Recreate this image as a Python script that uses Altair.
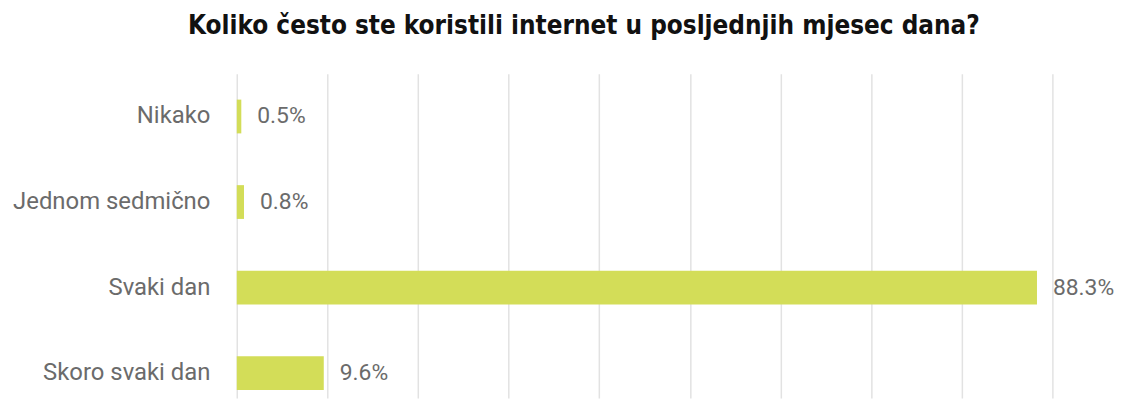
import altair as alt
import pandas as pd

categories = ["Nikako", "Jednom sedmično", "Svaki dan", "Skoro svaki dan"]
values = [0.5, 0.8, 88.3, 9.6]
labels = ["0.5%", "0.8%", "88.3%", "9.6%"]
grid_ticks = [0, 10, 20, 30, 40, 50, 60, 70, 80, 90]
title_text = "Koliko često ste koristili internet u posljednjih mjesec dana?"

df = pd.DataFrame({"cat": categories, "val": values, "label": labels})

label_font = "Roboto"
label_color = "#6b6b6b"

y_enc = alt.Y(
    "cat:N",
    sort=categories,
    title=None,
    scale=alt.Scale(paddingInner=0.605, paddingOuter=0.198, align=0.765),
    axis=alt.Axis(
        ticks=False,
        domain=False,
        labelPadding=27,
        labelFontSize=24,
        labelColor=label_color,
        labelFont=label_font,
        labelLimit=400,
    ),
)
x_enc = alt.X(
    "val:Q",
    scale=alt.Scale(domain=[0, 90], nice=False, zero=True),
    axis=alt.Axis(
        values=grid_ticks,
        labels=False,
        ticks=False,
        domain=False,
        grid=True,
        gridColor="#e2e2e2",
        gridWidth=1.5,
        title=None,
    ),
)

bars = alt.Chart(df).mark_bar(color="#d3dd58").encode(x=x_enc, y=y_enc)
text = alt.Chart(df).mark_text(
    align="left", baseline="middle", dx=16, fontSize=23, color=label_color, font=label_font
).encode(
    x=alt.X("val:Q"),
    y=alt.Y("cat:N", sort=categories),
    text="label:N",
)

chart = (
    (bars + text)
    .properties(
        width=820,
        height=326,
        title=alt.Title(
            title_text,
            fontSize=26,
            font="DejaVu Sans Condensed, Roboto, sans-serif",
            fontWeight="bold",
            color="#111111",
            anchor="middle",
            dx=-61,
            offset=35,
        ),
        autosize=alt.AutoSizeParams(type="none"),
        padding={"left": 230, "top": 65, "right": 73, "bottom": 0},
    )
    .configure_view(stroke=None)
)

chart.save("out.html", embed_options={"renderer": "svg", "actions": False})
